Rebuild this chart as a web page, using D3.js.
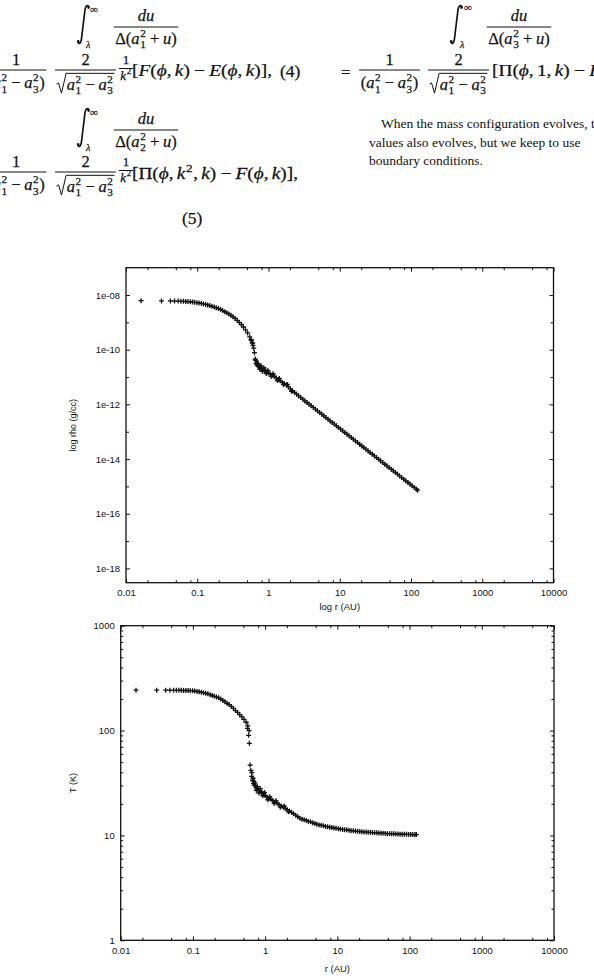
<!DOCTYPE html>
<html>
<head>
<meta charset="utf-8">
<script src="https://cdn.jsdelivr.net/npm/d3@7/dist/d3.min.js"></script>
<style>
html,body{margin:0;padding:0;background:#fff;}
svg{display:block;}
</style>
</head>
<body>
<svg id="page" width="594" height="979" viewBox="0 0 594 979"></svg>
<script>
// ---------------- data ----------------
const radius = [
  0.0163, 0.0315, 0.042, 0.048, 0.054, 0.059, 0.064, 0.069, 0.074, 0.080,
  0.086, 0.092, 0.099, 0.106, 0.114, 0.122, 0.131, 0.140, 0.150, 0.161,
  0.173, 0.185, 0.198, 0.212, 0.227, 0.243, 0.260, 0.278, 0.297, 0.318,
  0.340, 0.364, 0.389, 0.416, 0.445, 0.476, 0.509, 0.545, 0.57, 0.59,
  0.605, 0.62, 0.635, 0.65, 0.67, 0.69, 0.715, 0.74, 0.77, 0.80,
  0.835, 0.87, 0.91, 0.95, 1.00, 1.06, 1.13, 1.20, 1.28, 1.37,
  1.46, 1.56, 1.67, 1.78, 1.90, 2.03, 2.17, 2.32, 2.48, 2.65,
  2.83, 3.03, 3.24, 3.47, 3.71, 3.97, 4.25, 4.55, 4.87, 5.21,
  5.58, 5.97, 6.39, 6.84, 7.32, 7.83, 8.38, 8.97, 9.60, 10.3,
  11.0, 11.8, 12.6, 13.5, 14.5, 15.5, 16.6, 17.8, 19.0, 20.4,
  21.8, 23.3, 25.0, 26.7, 28.6, 30.6, 32.8, 35.1, 37.5, 40.2,
  43.0, 46.0, 49.2, 52.7, 56.4, 60.3, 64.6, 69.1, 73.9, 79.1,
  84.6, 90.6, 96.9, 103.7, 111.0, 118.8, 124.0,
  0.575, 0.60, 0.655, 0.68, 0.70, 0.725, 0.755, 0.785, 0.82, 0.86,
  0.93, 0.98, 1.09, 1.16, 1.33, 1.42, 1.62, 1.84, 2.10
];
const density = [
  6.2e-9, 6.1e-9, 6.1e-9, 6.0e-9, 6.0e-9, 5.9e-9, 5.9e-9, 5.8e-9, 5.75e-9, 5.68e-9,
  5.53e-9, 5.41e-9, 5.27e-9, 5.15e-9, 4.95e-9, 4.73e-9, 4.52e-9, 4.33e-9, 4.13e-9, 3.87e-9,
  3.63e-9, 3.42e-9, 3.21e-9, 2.99e-9, 2.71e-9, 2.45e-9, 2.23e-9, 2.03e-9, 1.81e-9, 1.59e-9,
  1.40e-9, 1.19e-9, 9.95e-10, 8.36e-10, 6.76e-10, 5.35e-10, 4.11e-10, 2.96e-10, 2.32e-10, 1.77e-10,
  1.45e-10, 1.14e-10, 7.78e-11, 4.53e-11, 3.19e-11, 2.81e-11, 2.48e-11, 2.34e-11, 2.20e-11, 2.06e-11,
  1.91e-11, 1.78e-11, 1.65e-11, 1.53e-11, 1.41e-11, 1.29e-11, 1.17e-11, 1.06e-11, 9.38e-12, 8.18e-12,
  7.26e-12, 6.46e-12, 5.71e-12, 5.13e-12, 4.37e-12, 3.72e-12, 3.16e-12, 2.72e-12, 2.36e-12, 2.05e-12,
  1.78e-12, 1.55e-12, 1.34e-12, 1.17e-12, 1.02e-12, 8.85e-13, 7.71e-13, 6.68e-13, 5.79e-13, 5.05e-13,
  4.38e-13, 3.81e-13, 3.30e-13, 2.88e-13, 2.49e-13, 2.17e-13, 1.90e-13, 1.64e-13, 1.43e-13, 1.24e-13,
  1.08e-13, 9.33e-14, 8.17e-14, 7.08e-14, 6.11e-14, 5.32e-14, 4.61e-14, 4.00e-14, 3.48e-14, 3.01e-14,
  2.64e-14, 2.30e-14, 1.98e-14, 1.73e-14, 1.50e-14, 1.30e-14, 1.13e-14, 9.84e-15, 8.57e-15, 7.43e-15,
  6.47e-15, 5.62e-15, 4.90e-15, 4.25e-15, 3.70e-15, 3.22e-15, 2.79e-15, 2.42e-15, 2.11e-15, 1.84e-15,
  1.60e-15, 1.39e-15, 1.21e-15, 1.05e-15, 9.14e-16, 7.92e-16, 7.28e-16,
  2.19e-10, 1.74e-10, 4.17e-11, 3.80e-11, 3.02e-11, 2.88e-11, 1.91e-11, 2.57e-11, 1.62e-11, 2.19e-11,
  1.35e-11, 1.74e-11, 1.05e-11, 1.32e-11, 7.41e-12, 8.91e-12, 5.25e-12, 5.37e-12, 3.02e-12
];
const temperature = [
  243, 243, 243, 243, 242, 242, 242, 242, 241, 241,
  241, 240, 240, 238, 236, 234, 232, 230, 227, 224,
  220, 216, 212, 209, 205, 200, 194, 188, 182, 177,
  170, 162.5, 155, 149, 142, 135, 128, 120, 105, 90,
  75.5, 46.9, 41.7, 36.5, 33.6, 31.2, 30.1, 29.0, 28.0, 27.4,
  26.7, 26.1, 25.4, 24.8, 24.0, 23.3, 22.6, 22.1, 21.5, 20.8,
  20.3, 19.7, 19.1, 18.6, 18.1, 17.6, 17.1, 16.6, 16.1, 15.6,
  15.1, 14.6, 14.3, 14.1, 13.9, 13.6, 13.5, 13.2, 13.0, 12.8,
  12.6, 12.5, 12.4, 12.2, 12.1, 12.0, 11.9, 11.8, 11.7, 11.6,
  11.5, 11.4, 11.35, 11.3, 11.2, 11.1, 11.07, 11.0, 10.95, 10.9,
  10.85, 10.8, 10.76, 10.7, 10.7, 10.65, 10.6, 10.6, 10.55, 10.5,
  10.5, 10.45, 10.4, 10.4, 10.38, 10.35, 10.3, 10.3, 10.28, 10.27,
  10.25, 10.24, 10.23, 10.22, 10.2, 10.2, 10.2,
  111, 100, 39.8, 35.1, 32.7, 31.6, 26.9, 29.2, 25.4, 27.9,
  23.9, 25.7, 21.9, 23.4, 20.2, 21.4, 18.6, 19.1, 16.8
];

const radiusTicks = [0.01, 0.1, 1, 10, 100, 1000, 10000];
const radiusTickLabels = ["0.01", "0.1", "1", "10", "100", "1000", "10000"];
const radiusMinorTicks = [0.02, 0.05, 0.08, 0.2, 0.5, 0.8, 2, 5, 8, 20, 50, 80, 200, 500, 800, 2000, 5000, 8000];
const densityTicks = [1e-8, 1e-10, 1e-12, 1e-14, 1e-16, 1e-18];
const densityTickLabels = ["1e-08", "1e-10", "1e-12", "1e-14", "1e-16", "1e-18"];
const densityMinorTicks = [1e-9, 1e-11, 1e-13, 1e-15, 1e-17];
const temperatureTicks = [1, 10, 100, 1000];
const temperatureTickLabels = ["1", "10", "100", "1000"];
const temperatureMinorTicks = [2, 3, 4, 5, 6, 7, 8, 9, 20, 30, 40, 50, 60, 70, 80, 90, 200, 300, 400, 500, 600, 700, 800, 900];

// ---------------- drawing ----------------
const INK = "#111";
const SANS = "'Liberation Sans', Arial, Helvetica, sans-serif";
const SERIF = "'Liberation Serif', 'Times New Roman', serif";
const svg = d3.select("#page");
svg.append("rect").attr("width", 594).attr("height", 979).attr("fill", "#fff");

// ---- math typesetting helpers ----
const Tn = s => ({t: s});
const It = s => ({t: s, it: true});
const Sp = e => ({sp: e});
const Sc = (b, sup, sub, it) => ({t: b, it: it, sup: sup, sub: sub});
const Sq = toks => ({sq: toks});

function addText(g, x, y, str, size, italic, plain) {
  const t = g.append("text").attr("x", x).attr("y", y)
    .attr("font-family", SERIF).attr("font-size", size)
    .attr("font-style", italic ? "italic" : "normal")
    .attr("fill", INK).text(str);
  if (!plain) t.attr("stroke", INK).attr("stroke-width", 0.25);
  return t.node().getComputedTextLength();
}
function mrow(g, toks, size) {
  let x = 0;
  toks.forEach(tk => {
    if (tk.sp !== undefined) { x += tk.sp * size; return; }
    if (tk.sq) {
      const inner = g.append("g");
      const w = mrow(inner, tk.sq, size);
      const rw = 0.62 * size;
      g.append("path")
        .attr("d", `M${x},${-0.32 * size} L${x + 0.12 * size},${-0.4 * size} L${x + 0.3 * size},${0.22 * size} L${x + rw - 0.04 * size},${-0.98 * size} L${x + rw + w + 1},${-0.98 * size}`)
        .attr("fill", "none").attr("stroke", INK).attr("stroke-width", 1);
      inner.attr("transform", `translate(${x + rw},0)`);
      x += rw + w + 1;
      return;
    }
    x += addText(g, x, 0, tk.t, size, tk.it);
    if (tk.sup || tk.sub) {
      let w2 = 0;
      if (tk.sup) w2 = Math.max(w2, addText(g, x + 0.6, -0.42 * size, tk.sup, size * 0.68, false));
      if (tk.sub) w2 = Math.max(w2, addText(g, x + 0.6, 0.3 * size, tk.sub, size * 0.68, false));
      x += w2 + 1.2;
    }
  });
  return x;
}
function row(x, y, toks, size, targetW) {
  const g = svg.append("g");
  const w = mrow(g, toks, size);
  const sx = targetW ? targetW / w : 1;
  g.attr("transform", `translate(${x},${y}) scale(${sx},1)`);
  return sx;
}
function frac(cx, barY, num, den, size, numOff, denOff) {
  const gn = svg.append("g"), gd = svg.append("g");
  const wn = mrow(gn, num, size), wd = mrow(gd, den, size);
  const w = Math.max(wn, wd) + 3;
  gn.attr("transform", `translate(${cx - wn / 2},${barY - numOff})`);
  gd.attr("transform", `translate(${cx - wd / 2},${barY + denOff})`);
  svg.append("line").attr("x1", cx - w / 2).attr("x2", cx + w / 2)
    .attr("y1", barY).attr("y2", barY).attr("stroke", INK).attr("stroke-width", 1);
}
function integral(x0, yT, yB) {
  const ym = (yT + yB) / 2;
  svg.append("path")
    .attr("d", `M${x0 + 11},${yT + 2.5} C${x0 + 10},${yT - 1} ${x0 + 7.2},${yT} ${x0 + 6.6},${yT + 8} L${x0 + 5.2},${ym} L${x0 + 3.8},${yB - 8} C${x0 + 3.2},${yB} ${x0 + 0.8},${yB + 1} ${x0 - 0.2},${yB - 2.5}`)
    .attr("fill", "none").attr("stroke", INK).attr("stroke-width", 1.7);
  svg.append("circle").attr("cx", x0 + 10.6).attr("cy", yT + 2.6).attr("r", 1.3).attr("fill", INK);
  svg.append("circle").attr("cx", x0 + 0.2).attr("cy", yB - 2.6).attr("r", 1.3).attr("fill", INK);
}

const M = 16.5;
const a1sq_minus_a3sq = [Sc("a", "2", "1", true), Sp(0.22), Tn("−"), Sp(0.22), Sc("a", "2", "3", true)];
const parenA = [Tn("(")].concat(a1sq_minus_a3sq, [Tn(")")]);
const sqrtA = [Sq(a1sq_minus_a3sq)];
const denDelta = k => [Tn("Δ("), Sc("a", "2", k, true), Sp(0.22), Tn("+"), Sp(0.22), It("u"), Tn(")")];

// eq (4), left column
integral(78, 5, 44);
addText(svg, 90, 13, "∞", 11, false);
addText(svg, 86, 48, "λ", 10, true);
frac(146, 27, [It("du")], denDelta("1"), M, 6.5, 16.5);
frac(16, 70, [Tn("1")], parenA, M, 5, 18);
frac(85.5, 70, [Tn("2")], sqrtA, M, 5, 19.5);
frac(126, 68.5, [Tn("1")], [Sc("k", "2", null, true)], 13, 5, 11);
const sx4 = row(132, 76, [Tn("["), It("F"), Tn("("), It("ϕ"), Tn(","), Sp(0.17), It("k"), Tn(")"), Sp(0.22), Tn("−"), Sp(0.22), It("E"), Tn("("), It("ϕ"), Tn(","), Sp(0.17), It("k"), Tn(")]"), Tn(",")], M, 140);
addText(svg, 280, 77, "(4)", 17.5, false);

// eq (5), left column
integral(78, 108, 147);
addText(svg, 90, 116, "∞", 11, false);
addText(svg, 86, 151, "λ", 10, true);
frac(146, 130, [It("du")], denDelta("2"), M, 6.5, 16.5);
frac(16, 172, [Tn("1")], parenA, M, 5, 18);
frac(85.5, 172, [Tn("2")], sqrtA, M, 5, 19.5);
frac(126, 170.5, [Tn("1")], [Sc("k", "2", null, true)], 13, 5, 11);
row(132, 179, [Tn("[Π("), It("ϕ"), Tn(","), Sp(0.17), Sc("k", "2", null, true), Tn(","), Sp(0.17), It("k"), Tn(")"), Sp(0.22), Tn("−"), Sp(0.22), It("F"), Tn("("), It("ϕ"), Tn(","), Sp(0.17), It("k"), Tn(")]"), Tn(",")], M, 166);
addText(svg, 182, 224, "(5)", 17.5, false);

// right column equation
integral(451, 5, 44);
addText(svg, 464, 11, "∞", 11, false);
addText(svg, 460, 48, "λ", 10, true);
frac(519, 27, [It("du")], denDelta("3"), M, 6.5, 16.5);
addText(svg, 341, 78, "=", M, false);
frac(389.5, 70, [Tn("1")], parenA, M, 5, 18);
frac(458.5, 70, [Tn("2")], sqrtA, M, 5, 19.5);
const gR = svg.append("g");
mrow(gR, [Tn("[Π("), It("ϕ"), Tn(","), Sp(0.17), Tn("1"), Tn(","), Sp(0.17), It("k"), Tn(")"), Sp(0.22), Tn("−"), Sp(0.22), It("F"), Tn("("), It("ϕ"), Tn(","), Sp(0.17), It("k"), Tn(")]")], M);
gR.attr("transform", `translate(492,76) scale(${sx4},1)`);

// paragraph
const para = [
  {x: 381, y: 128, t: "When the mass configuration evolves, t"},
  {x: 369, y: 146.5, t: "values also evolves, but we keep to use"},
  {x: 369, y: 165, t: "boundary conditions."}
];
para.forEach(p => addText(svg, p.x, p.y, p.t, 13.5, false, true));

// ---- plots ----
function plot(o) {
  const {x, y} = o;
  const L = x.range()[0], R = x.range()[1];
  const T = d3.min(y.range()), B = d3.max(y.range());
  const g = svg.append("g").attr("color", INK);
  const style = s => s.attr("font-family", SANS).attr("font-size", 9.5).call(a => a.select(".domain").remove());

  g.append("g").attr("transform", `translate(0,${B})`)
    .call(d3.axisBottom(x).tickValues(radiusTicks).tickFormat((d, i) => radiusTickLabels[i]).tickSize(-4).tickPadding(7)).call(style);
  g.append("g").attr("transform", `translate(0,${B})`)
    .call(d3.axisBottom(x).tickValues(radiusMinorTicks).tickFormat(() => "").tickSize(-2.5)).call(style);
  g.append("g").attr("transform", `translate(0,${T})`)
    .call(d3.axisTop(x).tickValues(radiusTicks).tickFormat(() => "").tickSize(-4)).call(style);
  g.append("g").attr("transform", `translate(0,${T})`)
    .call(d3.axisTop(x).tickValues(radiusMinorTicks).tickFormat(() => "").tickSize(-2.5)).call(style);

  g.append("g").attr("transform", `translate(${L},0)`)
    .call(d3.axisLeft(y).tickValues(o.yMajor).tickFormat((d, i) => o.yLabels[i]).tickSize(-4).tickPadding(6)).call(style);
  g.append("g").attr("transform", `translate(${L},0)`)
    .call(d3.axisLeft(y).tickValues(o.yMinor).tickFormat(() => "").tickSize(-o.minorLen)).call(style);
  g.append("g").attr("transform", `translate(${R},0)`)
    .call(d3.axisRight(y).tickValues(o.yMajor).tickFormat(() => "").tickSize(-4)).call(style);
  g.append("g").attr("transform", `translate(${R},0)`)
    .call(d3.axisRight(y).tickValues(o.yMinor).tickFormat(() => "").tickSize(-o.minorLen)).call(style);

  g.append("rect").attr("x", L).attr("y", T).attr("width", R - L).attr("height", B - T)
    .attr("fill", "none").attr("stroke", INK).attr("stroke-width", 1.3);

  g.append("g").selectAll("path").data(d3.zip(radius, o.values)).join("path")
    .attr("d", "M-2.5,0H2.5M0,-2.5V2.5")
    .attr("transform", d => `translate(${x(d[0])},${y(d[1])})`)
    .attr("stroke", INK).attr("stroke-width", 1.3).attr("fill", "none");

  g.append("text").attr("x", (L + R) / 2).attr("y", o.xTitleY).attr("text-anchor", "middle")
    .attr("font-family", SANS).attr("font-size", 9.5).attr("fill", INK).text(o.xTitle);
  g.append("text").attr("transform", `translate(${o.yTitleX},${(T + B) / 2}) rotate(-90)`)
    .attr("text-anchor", "middle").attr("dy", "0.35em")
    .attr("font-family", SANS).attr("font-size", 9).attr("fill", INK).text(o.yTitle);
}

plot({
  x: d3.scaleLog().domain([0.01, 10000]).range([126, 553.5]),
  y: d3.scaleLog().domain([1e-7, 3e-19]).range([267.7, 582.7]),
  values: density,
  yMajor: densityTicks, yLabels: densityTickLabels, yMinor: densityMinorTicks, minorLen: 3,
  xTitle: "log r (AU)", xTitleY: 610, yTitle: "log rho (g/cc)", yTitleX: 73
});
plot({
  x: d3.scaleLog().domain([0.01, 10000]).range([120.7, 554]),
  y: d3.scaleLog().domain([1, 1000]).range([940.3, 625.7]),
  values: temperature,
  yMajor: temperatureTicks, yLabels: temperatureTickLabels, yMinor: temperatureMinorTicks, minorLen: 2.5,
  xTitle: "r (AU)", xTitleY: 972, yTitle: "T (K)", yTitleX: 73
});
</script>
</body>
</html>
